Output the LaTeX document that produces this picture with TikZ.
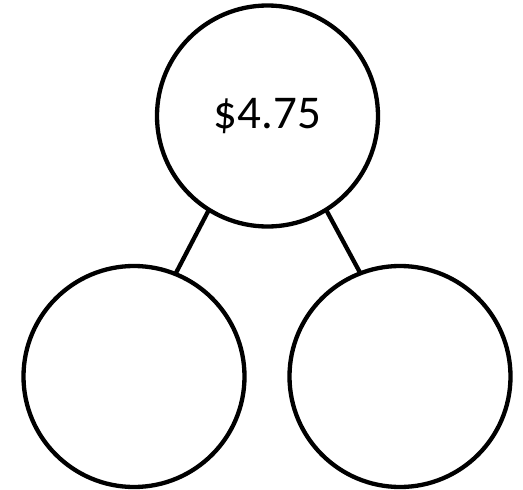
\documentclass[tikz,border=0pt]{standalone}
\usepackage{fontspec}
\setmainfont{Carlito}
\begin{document}
\begin{tikzpicture}[x=1pt,y=1pt,
  bubble/.style={draw=black,line width=4.3pt,circle,minimum size=221pt,inner sep=0pt,outer sep=0pt,fill=white},
  link/.style={draw=black,line width=4.3pt}]
\useasboundingbox (0,0) rectangle (523,-490);
\node[bubble,font=\fontsize{47}{56}\selectfont] (top) at (267.5,-116) {\$4.75};
\node[bubble] (left) at (134,-376.5) {};
\node[bubble] (right) at (400,-376.5) {};
\draw[link] (top.238) -- (left.68.4);
\draw[link] (top.302) -- (right.111.6);
\end{tikzpicture}
\end{document}
